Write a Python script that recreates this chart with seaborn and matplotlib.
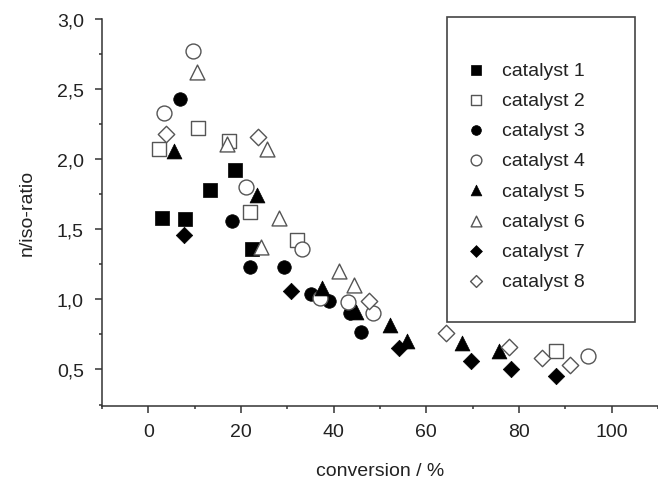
import numpy as np
import pandas as pd
import matplotlib
matplotlib.use("Agg")
import matplotlib.pyplot as plt
from matplotlib.ticker import MultipleLocator, FuncFormatter
from matplotlib.patches import Rectangle
import seaborn as sns

# data
catalysts = ["catalyst 1", "catalyst 2", "catalyst 3", "catalyst 4",
             "catalyst 5", "catalyst 6", "catalyst 7", "catalyst 8"]

conv_1 = [2.9, 7.9, 13.4, 18.8, 22.4]
ratio_1 = [1.58, 1.57, 1.78, 1.92, 1.36]
conv_2 = [2.4, 10.8, 17.4, 21.9, 32.0, 88.0]
ratio_2 = [2.07, 2.22, 2.13, 1.62, 1.42, 0.63]
conv_3 = [6.9, 18.1, 21.9, 29.3, 35.2, 39.0, 43.5, 45.8]
ratio_3 = [2.43, 1.56, 1.23, 1.23, 1.04, 0.99, 0.905, 0.77]
conv_4 = [3.4, 9.6, 21.0, 33.1, 37.0, 43.1, 48.5, 95.0]
ratio_4 = [2.33, 2.77, 1.80, 1.36, 1.01, 0.98, 0.90, 0.595]
conv_5 = [5.5, 23.5, 37.4, 44.8, 52.1, 55.8, 67.8, 75.6]
ratio_5 = [2.06, 1.74, 1.08, 0.91, 0.82, 0.70, 0.69, 0.63]
conv_6 = [10.6, 16.9, 25.7, 28.2, 24.4, 41.2, 44.3]
ratio_6 = [2.62, 2.11, 2.07, 1.58, 1.37, 1.20, 1.10]
conv_7 = [7.8, 30.9, 54.1, 69.7, 78.2, 88.0]
ratio_7 = [1.46, 1.06, 0.655, 0.56, 0.50, 0.45]
conv_8 = [3.8, 23.7, 47.6, 64.3, 77.8, 85.0, 91.0]
ratio_8 = [2.18, 2.155, 0.99, 0.76, 0.66, 0.58, 0.535]

conversions = [conv_1, conv_2, conv_3, conv_4, conv_5, conv_6, conv_7, conv_8]
ratios = [ratio_1, ratio_2, ratio_3, ratio_4, ratio_5, ratio_6, ratio_7, ratio_8]

markers = ["s", "s", "o", "o", "^", "^", "D", "D"]
sizes = [88, 88, 95, 115, 115, 115, 70, 70]
filled = [True, False, True, False, True, False, True, False]

sns.set_style("ticks")
plt.rcParams["font.family"] = ["Liberation Sans", "DejaVu Sans"]
plt.rcParams["font.size"] = 14

fig = plt.figure(figsize=(6.58, 4.81), dpi=100)
ax = fig.add_axes([0.155, 0.154, 0.845, 0.805])

for name, xs, ys, m, s, f in zip(catalysts, conversions, ratios, markers, sizes, filled):
    df = pd.DataFrame({"conversion": xs, "ratio": ys})
    if f:
        sns.scatterplot(data=df, x="conversion", y="ratio", ax=ax, marker=m, s=s,
                        color="black", edgecolor="black", linewidth=0.5, label=name, zorder=3)
    else:
        sns.scatterplot(data=df, x="conversion", y="ratio", ax=ax, marker=m, s=s,
                        color="white", edgecolor="#555555", linewidth=1.0, label=name, zorder=3)

ax.set_xlim(-10, 110)
ax.set_ylim(0.24, 3.0)
ax.xaxis.set_major_locator(MultipleLocator(20))
ax.xaxis.set_minor_locator(MultipleLocator(10))
ax.yaxis.set_major_locator(MultipleLocator(0.5))
ax.yaxis.set_minor_locator(MultipleLocator(0.25))
ax.yaxis.set_major_formatter(FuncFormatter(lambda v, p: f"{v:.1f}".replace(".", ",")))

ax.tick_params(which="major", direction="out", length=5, width=1.1, pad=7,
               colors="#333333", labelcolor="#222222", labelsize=14)
ax.tick_params(which="minor", direction="out", length=2.5, width=1.1, colors="#333333")
ax.tick_params(axis="y", which="major", pad=8)

sns.despine(ax=ax)
for side in ["left", "bottom"]:
    ax.spines[side].set_linewidth(1.1)
    ax.spines[side].set_color("#333333")

ax.set_xlabel("conversion / %", fontsize=14, color="#222222", labelpad=16)
ax.set_ylabel("n/iso-ratio", fontsize=14, color="#222222", labelpad=15)

# legend box
fig.patches.append(Rectangle((447 / 658, 1 - 323 / 481), 188 / 658, 305 / 481,
                             transform=fig.transFigure, facecolor="white",
                             edgecolor="#444444", linewidth=1.2, zorder=1))
handles, labels = ax.get_legend_handles_labels()
leg = fig.legend(handles, labels, loc="upper left",
                 bbox_to_anchor=(457 / 658, 1 - 53 / 481),
                 frameon=False, borderpad=0, handlelength=1.0, handletextpad=0.8,
                 labelspacing=0.64, markerscale=0.72, fontsize=14)
for t in leg.get_texts():
    t.set_color("#222222")
if ax.get_legend():
    ax.get_legend().remove()

fig.savefig("out.png", dpi=100)
